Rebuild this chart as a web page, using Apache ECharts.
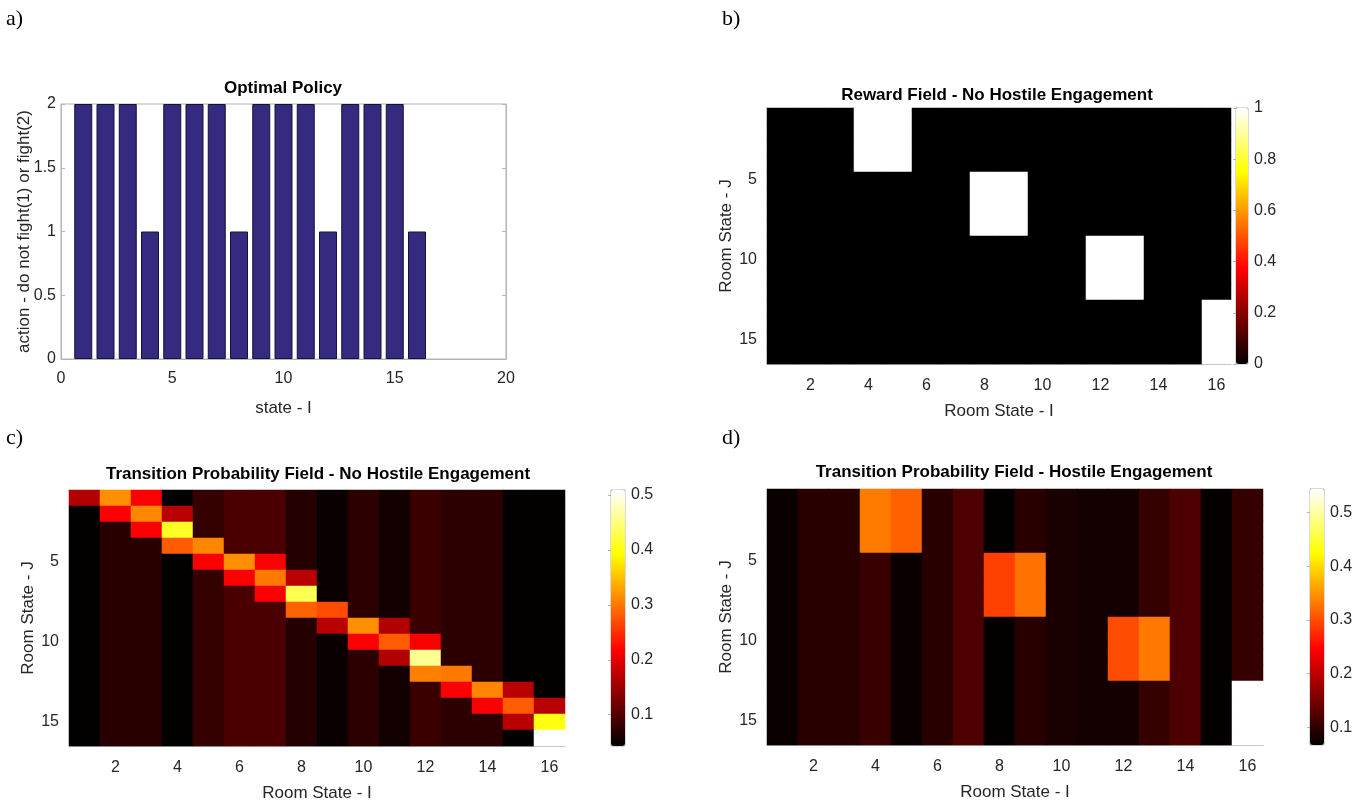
<!DOCTYPE html>
<html>
<head>
<meta charset="utf-8">
<title>Optimal policy / reward / transition fields</title>
<script src="https://cdn.jsdelivr.net/npm/echarts@6/dist/echarts.min.js"></script>
<style>
    html, body { margin: 0; padding: 0; background: #fff; }
    #main { width: 1362px; height: 805px; }
</style>
</head>
<body>
<div id="main"></div>
<script>
// a) optimal policy
var states = [1, 2, 3, 4, 5, 6, 7, 8, 9, 10, 11, 12, 13, 14, 15, 16];
var policyAction = [2, 2, 2, 1, 2, 2, 2, 1, 2, 2, 2, 1, 2, 2, 2, 1];

// room state categories (I = columns, J = rows)
var rooms = ['1', '2', '3', '4', '5', '6', '7', '8', '9', '10', '11', '12', '13', '14', '15', '16'];

// b) reward field, rows J = 1..16
var rewardField = [
    [0, 0, 0, 1, 1, 0, 0, 0, 0, 0, 0, 0, 0, 0, 0, 0],
    [0, 0, 0, 1, 1, 0, 0, 0, 0, 0, 0, 0, 0, 0, 0, 0],
    [0, 0, 0, 1, 1, 0, 0, 0, 0, 0, 0, 0, 0, 0, 0, 0],
    [0, 0, 0, 1, 1, 0, 0, 0, 0, 0, 0, 0, 0, 0, 0, 0],
    [0, 0, 0, 0, 0, 0, 0, 1, 1, 0, 0, 0, 0, 0, 0, 0],
    [0, 0, 0, 0, 0, 0, 0, 1, 1, 0, 0, 0, 0, 0, 0, 0],
    [0, 0, 0, 0, 0, 0, 0, 1, 1, 0, 0, 0, 0, 0, 0, 0],
    [0, 0, 0, 0, 0, 0, 0, 1, 1, 0, 0, 0, 0, 0, 0, 0],
    [0, 0, 0, 0, 0, 0, 0, 0, 0, 0, 0, 1, 1, 0, 0, 0],
    [0, 0, 0, 0, 0, 0, 0, 0, 0, 0, 0, 1, 1, 0, 0, 0],
    [0, 0, 0, 0, 0, 0, 0, 0, 0, 0, 0, 1, 1, 0, 0, 0],
    [0, 0, 0, 0, 0, 0, 0, 0, 0, 0, 0, 1, 1, 0, 0, 0],
    [0, 0, 0, 0, 0, 0, 0, 0, 0, 0, 0, 0, 0, 0, 0, 1],
    [0, 0, 0, 0, 0, 0, 0, 0, 0, 0, 0, 0, 0, 0, 0, 1],
    [0, 0, 0, 0, 0, 0, 0, 0, 0, 0, 0, 0, 0, 0, 0, 1],
    [0, 0, 0, 0, 0, 0, 0, 0, 0, 0, 0, 0, 0, 0, 0, 1]
];

// c) transition probability - no hostile engagement
var transNoHostile = [
    [.165, .316, .215, .045, .079, .094, .094, .068, .050, .074, .055, .083, .073, .073, .045, .045],
    [.045, .215, .310, .170, .079, .094, .094, .068, .050, .074, .055, .083, .073, .073, .045, .045],
    [.045, .071, .215, .410, .079, .094, .094, .068, .050, .074, .055, .083, .073, .073, .045, .045],
    [.045, .071, .071, .280, .310, .094, .094, .068, .050, .074, .055, .083, .073, .073, .045, .045],
    [.045, .071, .071, .045, .215, .316, .215, .068, .050, .074, .055, .083, .073, .073, .045, .045],
    [.045, .071, .071, .045, .079, .215, .300, .170, .050, .074, .055, .083, .073, .073, .045, .045],
    [.045, .071, .071, .045, .079, .094, .215, .430, .050, .074, .055, .083, .073, .073, .045, .045],
    [.045, .071, .071, .045, .079, .094, .094, .285, .270, .074, .055, .083, .073, .073, .045, .045],
    [.045, .071, .071, .045, .079, .094, .094, .068, .170, .316, .165, .083, .073, .073, .045, .045],
    [.045, .071, .071, .045, .079, .094, .094, .068, .050, .215, .280, .215, .073, .073, .045, .045],
    [.045, .071, .071, .045, .079, .094, .094, .068, .050, .074, .165, .460, .073, .073, .045, .045],
    [.045, .071, .071, .045, .079, .094, .094, .068, .050, .074, .055, .305, .300, .073, .045, .045],
    [.045, .071, .071, .045, .079, .094, .094, .068, .050, .074, .055, .083, .215, .310, .170, .045],
    [.045, .071, .071, .045, .079, .094, .094, .068, .050, .074, .055, .083, .073, .215, .280, .170],
    [.045, .071, .071, .045, .079, .094, .094, .068, .050, .074, .055, .083, .073, .073, .170, .400],
    [.045, .071, .071, .045, .079, .094, .094, .068, .050, .074, .055, .083, .073, .073, .045, .509]
];

// d) transition probability - hostile engagement
var transHostile = [
    [.075, .096, .096, .332, .313, .096, .121, .070, .095, .085, .082, .082, .104, .120, .070, .104],
    [.075, .096, .096, .332, .313, .096, .121, .070, .095, .085, .082, .082, .104, .120, .070, .104],
    [.075, .096, .096, .332, .313, .096, .121, .070, .095, .085, .082, .082, .104, .120, .070, .104],
    [.075, .096, .096, .332, .313, .096, .121, .070, .095, .085, .082, .082, .104, .120, .070, .104],
    [.075, .096, .096, .106, .075, .096, .121, .291, .325, .085, .082, .082, .104, .120, .070, .104],
    [.075, .096, .096, .106, .075, .096, .121, .291, .325, .085, .082, .082, .104, .120, .070, .104],
    [.075, .096, .096, .106, .075, .096, .121, .291, .325, .085, .082, .082, .104, .120, .070, .104],
    [.075, .096, .096, .106, .075, .096, .121, .291, .325, .085, .082, .082, .104, .120, .070, .104],
    [.075, .096, .096, .106, .075, .096, .121, .070, .095, .085, .082, .300, .330, .120, .070, .104],
    [.075, .096, .096, .106, .075, .096, .121, .070, .095, .085, .082, .300, .330, .120, .070, .104],
    [.075, .096, .096, .106, .075, .096, .121, .070, .095, .085, .082, .300, .330, .120, .070, .104],
    [.075, .096, .096, .106, .075, .096, .121, .070, .095, .085, .082, .300, .330, .120, .070, .104],
    [.075, .096, .096, .106, .075, .096, .121, .070, .095, .085, .082, .082, .104, .120, .070, .544],
    [.075, .096, .096, .106, .075, .096, .121, .070, .095, .085, .082, .082, .104, .120, .070, .544],
    [.075, .096, .096, .106, .075, .096, .121, .070, .095, .085, .082, .082, .104, .120, .070, .544],
    [.075, .096, .096, .106, .075, .096, .121, .070, .095, .085, .082, .082, .104, .120, .070, .544]
];

// colour limits of the three colorbars
var rewardRange = [0, 1];
var noHostileRange = [0.043, 0.509];
var hostileRange = [0.067, 0.544];

// matlab "hot" colormap, evenly spaced stops
var hotColors = ['#000000', '#550000', '#aa0000', '#ff0000', '#ff5500', '#ffaa00', '#ffff00', '#ffff80', '#ffffff'];

var FONT = 'Liberation Sans';
var TXT = '#262626';
var AXC = '#b4b4b4';

function cells(matrix) {
    var out = [];
    for (var j = 0; j < matrix.length; j++) {
        for (var i = 0; i < matrix[j].length; i++) {
            out.push([i, j, matrix[j][i]]);
        }
    }
    return out;
}

function roomXAxis(gridIndex) {
    return {
        type: 'category', gridIndex: gridIndex, data: rooms,
        name: 'Room State - I', nameLocation: 'middle', nameGap: 39,
        nameTextStyle: {fontFamily: FONT, fontSize: 17, color: TXT},
        axisLine: {lineStyle: {color: AXC}},
        axisTick: {inside: true, length: 4, alignWithLabel: true, lineStyle: {color: AXC},
            interval: function (idx) { return (idx + 1) % 2 === 0; }},
        axisLabel: {fontFamily: FONT, fontSize: 16, color: TXT, margin: 14,
            interval: function (idx) { return (idx + 1) % 2 === 0; }},
        splitLine: {show: false}
    };
}

function roomYAxis(gridIndex, gap) {
    return {
        type: 'category', gridIndex: gridIndex, data: rooms, inverse: true,
        name: 'Room State - J', nameLocation: 'middle', nameGap: gap,
        nameTextStyle: {fontFamily: FONT, fontSize: 17, color: TXT},
        axisLine: {lineStyle: {color: AXC}},
        axisTick: {inside: true, length: 4, alignWithLabel: true, lineStyle: {color: AXC},
            interval: function (idx) { return (idx + 1) % 5 === 0; }},
        axisLabel: {fontFamily: FONT, fontSize: 16, color: TXT, margin: 10,
            interval: function (idx) { return (idx + 1) % 5 === 0; }},
        splitLine: {show: false}
    };
}

function cbarYAxis(gridIndex, range, interval) {
    var ax = {
        type: 'value', gridIndex: gridIndex, position: 'right',
        min: range[0], max: range[1],
        axisLine: {show: true, lineStyle: {color: AXC}},
        axisTick: {show: true, inside: true, length: 3, lineStyle: {color: AXC}},
        axisLabel: {fontFamily: FONT, fontSize: 16, color: TXT, margin: 6,
            showMinLabel: range[0] === 0, showMaxLabel: range[1] === 1},
        splitLine: {show: false}
    };
    if (interval) ax.interval = interval;
    return ax;
}

function hiddenX(gridIndex) {
    return {type: 'value', gridIndex: gridIndex, show: false, min: 0, max: 1};
}

function hotMap(seriesIndex, range, left, top, w, h) {
    return {
        type: 'continuous', seriesIndex: seriesIndex,
        min: range[0], max: range[1],
        calculable: false, hoverLink: false, realtime: false,
        orient: 'vertical', left: left, top: top, padding: 0,
        itemWidth: w, itemHeight: h,
        inRange: {color: hotColors},
        textStyle: {color: 'transparent'}
    };
}

function panelText(x, y, text, font, align) {
    return {
        type: 'text', x: x, y: y,
        style: {text: text, font: font, fill: '#000', textAlign: align || 'left', textVerticalAlign: 'middle'}
    };
}

var dom = document.getElementById('main');
var myChart = echarts.init(dom, null, {renderer: 'canvas'});

// heatmap grids use whole-pixel cells (16 x 16) so no seams show
var option = {
    animation: false,
    backgroundColor: '#fff',
    grid: [
        {left: 61, top: 104, width: 445, height: 255, show: true, borderColor: AXC, borderWidth: 1},
        {left: 767, top: 108, width: 464, height: 256},
        {left: 1236, top: 108, width: 12, height: 256, show: true, borderColor: AXC, borderWidth: 1},
        {left: 69, top: 490, width: 496, height: 256},
        {left: 611, top: 490, width: 14, height: 256, show: true, borderColor: AXC, borderWidth: 1},
        {left: 767, top: 489, width: 496, height: 256},
        {left: 1310, top: 489, width: 14, height: 256, show: true, borderColor: AXC, borderWidth: 1}
    ],
    xAxis: [
        {
            type: 'value', gridIndex: 0, min: 0, max: 20, interval: 5,
            name: 'state - I', nameLocation: 'middle', nameGap: 41,
            nameTextStyle: {fontFamily: FONT, fontSize: 17, color: TXT},
            axisLine: {lineStyle: {color: AXC}},
            axisTick: {inside: true, length: 4, lineStyle: {color: AXC}},
            axisLabel: {fontFamily: FONT, fontSize: 16, color: TXT, margin: 12},
            splitLine: {show: false}
        },
        roomXAxis(1),
        hiddenX(2),
        roomXAxis(3),
        hiddenX(4),
        roomXAxis(5),
        hiddenX(6)
    ],
    yAxis: [
        {
            type: 'value', gridIndex: 0, min: 0, max: 2, interval: 0.5,
            name: 'action - do not fight(1) or fight(2)', nameLocation: 'middle', nameGap: 28,
            nameMoveOverlap: false,
            nameTextStyle: {fontFamily: FONT, fontSize: 17, color: TXT},
            axisLine: {show: true, lineStyle: {color: AXC}},
            axisTick: {show: true, inside: true, length: 4, lineStyle: {color: AXC}},
            axisLabel: {fontFamily: FONT, fontSize: 16, color: TXT, margin: 5},
            splitLine: {show: false}
        },
        {
            type: 'value', gridIndex: 0, position: 'right', min: 0, max: 2, interval: 0.5,
            axisLine: {show: true, lineStyle: {color: AXC}},
            axisTick: {show: true, inside: true, length: 4, lineStyle: {color: AXC}},
            axisLabel: {show: false},
            splitLine: {show: false}
        },
        roomYAxis(1, 30),
        cbarYAxis(2, rewardRange, 0.2),
        roomYAxis(3, 25),
        cbarYAxis(4, noHostileRange),
        roomYAxis(5, 28),
        cbarYAxis(6, hostileRange)
    ],
    visualMap: [
        hotMap(1, rewardRange, 1236, 108, 12, 256),
        hotMap(2, noHostileRange, 611, 490, 14, 256),
        hotMap(3, hostileRange, 1310, 489, 14, 256)
    ],
    series: [
        {
            name: 'policy', type: 'bar', xAxisIndex: 0, yAxisIndex: 0,
            barWidth: 18,
            itemStyle: {color: '#342a80', borderColor: '#15123a', borderWidth: 1},
            data: states.map(function (s, i) { return [s, policyAction[i]]; })
        },
        {
            name: 'reward', type: 'heatmap', xAxisIndex: 1, yAxisIndex: 2,
            itemStyle: {borderWidth: 0},
            data: cells(rewardField), emphasis: {disabled: true}
        },
        {
            name: 'noHostile', type: 'heatmap', xAxisIndex: 3, yAxisIndex: 4,
            itemStyle: {borderWidth: 0},
            data: cells(transNoHostile), emphasis: {disabled: true}
        },
        {
            name: 'hostile', type: 'heatmap', xAxisIndex: 5, yAxisIndex: 6,
            itemStyle: {borderWidth: 0},
            data: cells(transHostile), emphasis: {disabled: true}
        }
    ],
    graphic: [
        panelText(6, 19, 'a)', '22px "Liberation Serif"'),
        panelText(722, 19, 'b)', '22px "Liberation Serif"'),
        panelText(6, 438, 'c)', '22px "Liberation Serif"'),
        panelText(722, 438, 'd)', '22px "Liberation Serif"'),
        panelText(283, 88, 'Optimal Policy', 'bold 17px "Liberation Sans"', 'center'),
        panelText(997, 95, 'Reward Field - No Hostile Engagement', 'bold 17px "Liberation Sans"', 'center'),
        panelText(318, 474, 'Transition Probability Field - No Hostile Engagement', 'bold 17px "Liberation Sans"', 'center'),
        panelText(1014, 472, 'Transition Probability Field - Hostile Engagement', 'bold 17px "Liberation Sans"', 'center')
    ]
};

myChart.setOption(option);
</script>
</body>
</html>
